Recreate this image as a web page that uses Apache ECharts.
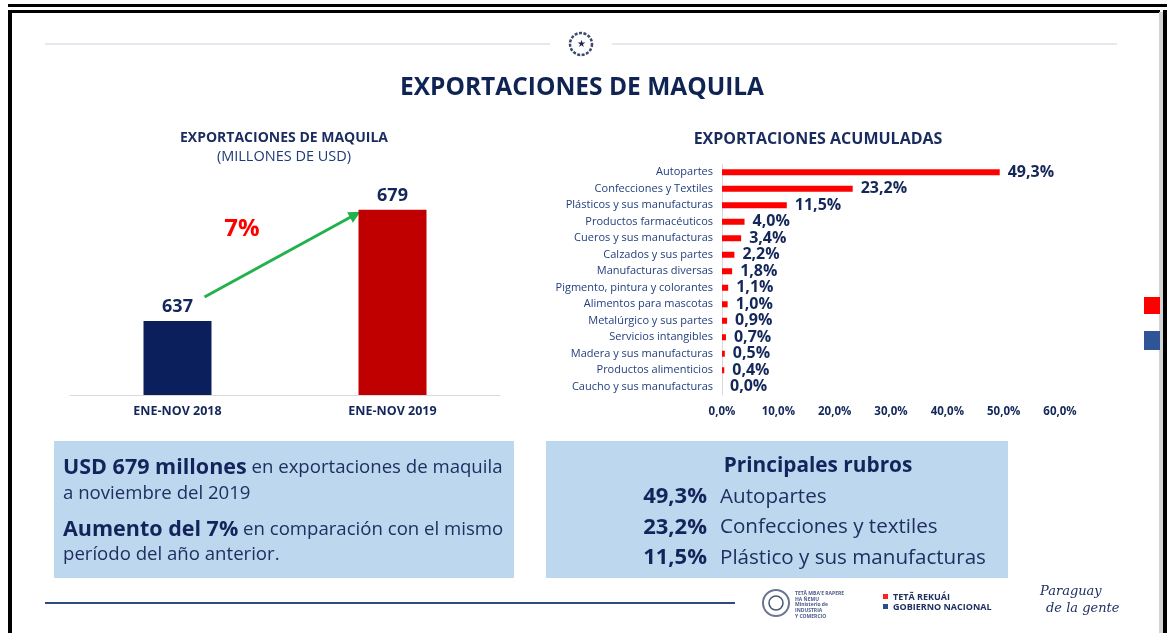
<!DOCTYPE html>
<html>
<head>
<meta charset="utf-8">
<script src="https://cdn.jsdelivr.net/npm/echarts@6/dist/echarts.min.js"></script>
<style>
  html, body { margin: 0; padding: 0; background: #fff; }
  #main { width: 1167px; height: 633px; }
</style>
</head>
<body>
<div id="main"></div>
<script>
// datos del grafico de la izquierda (millones de USD)
var periodos = ['ENE-NOV 2018', 'ENE-NOV 2019'];
var montos = [637, 679];
var variacion = '7%';

// exportaciones acumuladas por rubro (%)
var rubros = ['Autopartes', 'Confecciones y Textiles', 'Plásticos y sus manufacturas', 'Productos farmacéuticos',
  'Cueros y sus manufacturas', 'Calzados y sus partes', 'Manufacturas diversas', 'Pigmento, pintura y colorantes',
  'Alimentos para mascotas', 'Metalúrgico y sus partes', 'Servicios intangibles', 'Madera y sus manufacturas',
  'Productos alimenticios', 'Caucho y sus manufacturas'];
var participacion = [49.3, 23.2, 11.5, 4.0, 3.4, 2.2, 1.8, 1.1, 1.0, 0.9, 0.7, 0.5, 0.4, 0.0];
var ticksPct = [0, 10, 20, 30, 40, 50, 60];

// recuadro "Principales rubros"
var principalesNombres = ['Autopartes', 'Confecciones y textiles', 'Plástico y sus manufacturas'];
var principalesPct = [49.3, 23.2, 11.5];

var NAVY = '#14275a';
var FONT = 'Open Sans';

function pct(v) {
  return v.toFixed(1).replace('.', ',') + '%';
}

var chart = echarts.init(document.getElementById('main'));

var option = {
  animation: false,
  textStyle: { fontFamily: FONT },
  grid: [
    { left: 70, width: 430, top: 170, bottom: 238 },
    { left: 722, right: 107, top: 164, bottom: 238 }
  ],
  xAxis: [
    {
      gridIndex: 0, type: 'category', data: periodos,
      axisLine: { lineStyle: { color: '#d9d9d9', width: 1 } },
      axisTick: { show: false },
      axisLabel: { color: NAVY, fontWeight: 'bold', fontSize: 12.5, margin: 10, fontFamily: FONT }
    },
    {
      gridIndex: 1, type: 'value', min: 0, max: 60, interval: 10,
      axisLine: { show: false }, axisTick: { show: false }, splitLine: { show: false },
      axisLabel: {
        color: NAVY, fontWeight: 'bold', fontSize: 11.5, margin: 11, fontFamily: FONT,
        formatter: function (v) { return ticksPct.indexOf(v) >= 0 ? pct(v) : ''; }
      }
    }
  ],
  yAxis: [
    { gridIndex: 0, type: 'value', min: 609, max: 694, show: false },
    {
      gridIndex: 1, type: 'category', data: rubros, inverse: true,
      axisLine: { lineStyle: { color: '#d9d9d9' } },
      axisTick: { show: false },
      axisLabel: { color: '#23407e', fontSize: 11, margin: 9, fontFamily: FONT }
    }
  ],
  series: [
    {
      type: 'bar', xAxisIndex: 0, yAxisIndex: 0, barWidth: 68,
      data: montos.map(function (v, i) {
        return { value: v, itemStyle: { color: i === 0 ? '#0b1f5c' : '#c00000' } };
      }),
      label: {
        show: true, position: 'top', distance: 5, color: NAVY,
        fontWeight: 'bold', fontSize: 18, fontFamily: FONT
      }
    },
    {
      type: 'bar', xAxisIndex: 1, yAxisIndex: 1, barWidth: 6,
      itemStyle: { color: '#ff0000' },
      data: participacion,
      label: {
        show: true, position: 'right', distance: 8, color: NAVY,
        fontWeight: 'bold', fontSize: 16, fontFamily: FONT,
        formatter: function (p) { return pct(p.value); }
      }
    }
  ]
};
chart.setOption(option);

// flecha verde entre las dos barras
var p0 = chart.convertToPixel({ gridIndex: 0 }, [0, montos[0] + 9]);
var p1 = chart.convertToPixel({ gridIndex: 0 }, [1, montos[1]]);
var a = [p0[0] + 27, p0[1]];
var b = [p1[0] - 32, p1[1] + 2];
var ang = Math.atan2(b[1] - a[1], b[0] - a[0]);
function rot(dx, dy) {
  return [b[0] + dx * Math.cos(ang) - dy * Math.sin(ang), b[1] + dx * Math.sin(ang) + dy * Math.cos(ang)];
}

var g = [];
// marco
g.push({ type: 'rect', shape: { x: 8, y: 4, width: 1159, height: 3 }, style: { fill: '#000' } });
g.push({ type: 'rect', shape: { x: 8, y: 10, width: 1152, height: 3 }, style: { fill: '#000' } });
g.push({ type: 'rect', shape: { x: 8, y: 10, width: 4, height: 623 }, style: { fill: '#000' } });
g.push({ type: 'rect', shape: { x: 1159, y: 12, width: 4, height: 621 }, style: { fill: '#d4d4d4' } });
g.push({ type: 'rect', shape: { x: 1163, y: 10, width: 4, height: 623 }, style: { fill: '#000' } });

// encabezado
g.push({ type: 'line', shape: { x1: 45, y1: 44, x2: 550, y2: 44 }, style: { stroke: '#dde1ea', lineWidth: 1.5 } });
g.push({ type: 'line', shape: { x1: 612, y1: 44, x2: 1117, y2: 44 }, style: { stroke: '#dde1ea', lineWidth: 1.5 } });
g.push({ type: 'circle', shape: { cx: 581, cy: 44, r: 11 }, style: { fill: '#fff', stroke: '#3b4a6b', lineWidth: 2.5, lineDash: [3, 1.5] } });
g.push({ type: 'text', x: 581, y: 44, style: { text: '★', fill: '#1d2a4a', fontSize: 10, align: 'center', verticalAlign: 'middle' } });
g.push({ type: 'text', x: 582, y: 88, style: { text: 'EXPORTACIONES DE MAQUILA', fill: '#0f2453', font: 'bold 24.5px "Open Sans"', align: 'center', verticalAlign: 'middle' } });

// titulos de los graficos
g.push({ type: 'text', x: 284, y: 138, style: { text: 'EXPORTACIONES DE MAQUILA', fill: '#1a2b5e', font: 'bold 14px "Open Sans"', align: 'center', verticalAlign: 'middle' } });
g.push({ type: 'text', x: 284, y: 157, style: { text: '(MILLONES DE USD)', fill: '#1f3a78', font: '14.5px "Open Sans"', align: 'center', verticalAlign: 'middle' } });
g.push({ type: 'text', x: 818, y: 139, style: { text: 'EXPORTACIONES ACUMULADAS', fill: '#1a2b5e', font: 'bold 16px "Open Sans"', align: 'center', verticalAlign: 'middle' } });

// flecha y porcentaje
g.push({ type: 'line', shape: { x1: a[0], y1: a[1], x2: rot(-8, 0)[0], y2: rot(-8, 0)[1] }, style: { stroke: '#21b24b', lineWidth: 3 } });
g.push({ type: 'polygon', shape: { points: [b, rot(-12, -6), rot(-12, 6)] }, style: { fill: '#21b24b' } });
g.push({ type: 'text', x: 242, y: 229, style: { text: variacion, fill: '#ff0000', font: 'bold 24px "Open Sans"', align: 'center', verticalAlign: 'middle' } });

// recuadro izquierdo
g.push({ type: 'rect', shape: { x: 54, y: 441, width: 460, height: 137 }, style: { fill: '#bdd7ee' } });
var rich = {
  b: { fontFamily: FONT, fontWeight: 'bold', fontSize: 21.5, fill: '#13245a' },
  n: { fontFamily: FONT, fontSize: 18.6, fill: '#1f2f60' }
};
g.push({ type: 'text', x: 63, y: 468, style: { text: '{b|USD ' + montos[1] + ' millones}{n| en exportaciones de maquila}', rich: rich, verticalAlign: 'middle' } });
g.push({ type: 'text', x: 63, y: 494, style: { text: '{n|a noviembre del 2019}', rich: rich, verticalAlign: 'middle' } });
g.push({ type: 'text', x: 63, y: 530, style: { text: '{b|Aumento del ' + variacion + '}{n| en comparación con el mismo}', rich: rich, verticalAlign: 'middle' } });
g.push({ type: 'text', x: 63, y: 555, style: { text: '{n|período del año anterior.}', rich: rich, verticalAlign: 'middle' } });

// recuadro derecho
g.push({ type: 'rect', shape: { x: 546, y: 441, width: 462, height: 137 }, style: { fill: '#bdd7ee' } });
g.push({ type: 'text', x: 818, y: 466, style: { text: 'Principales rubros', fill: '#13245a', font: 'bold 20.8px "Open Sans"', align: 'center', verticalAlign: 'middle' } });
principalesNombres.forEach(function (n, i) {
  var y = 497 + i * 30.5;
  g.push({ type: 'text', x: 707, y: y, style: { text: pct(principalesPct[i]), fill: '#13245a', font: 'bold 22px "Open Sans"', align: 'right', verticalAlign: 'middle' } });
  g.push({ type: 'text', x: 720, y: y, style: { text: n, fill: '#1f2f60', font: '20.6px "Open Sans"', align: 'left', verticalAlign: 'middle' } });
});

// pie de pagina
g.push({ type: 'line', shape: { x1: 45, y1: 603, x2: 735, y2: 603 }, style: { stroke: '#2f4a7c', lineWidth: 2 } });
g.push({ type: 'circle', shape: { cx: 776, cy: 603, r: 13 }, style: { fill: '#fff', stroke: '#6b7690', lineWidth: 2 } });
g.push({ type: 'circle', shape: { cx: 776, cy: 603, r: 7 }, style: { fill: '#fff', stroke: '#4b5672', lineWidth: 1.5 } });
g.push({ type: 'text', x: 795, y: 591, style: { text: 'TETÃ MBA\'E RAPERE\nHA ÑEMU\nMinisterio de\nINDUSTRIA\nY COMERCIO', fill: '#4a5a8a', font: 'bold 5px "Open Sans"', lineHeight: 5.6 } });
g.push({ type: 'rect', shape: { x: 883, y: 594, width: 5, height: 5 }, style: { fill: '#ff2020' } });
g.push({ type: 'rect', shape: { x: 883, y: 604, width: 5, height: 5 }, style: { fill: '#2f4a8c' } });
g.push({ type: 'text', x: 893, y: 597, style: { text: 'TETÃ REKUÁI', fill: '#1f2f60', font: 'bold 9px "Open Sans"', verticalAlign: 'middle' } });
g.push({ type: 'text', x: 893, y: 607, style: { text: 'GOBIERNO NACIONAL', fill: '#1f2f60', font: 'bold 9px "Open Sans"', verticalAlign: 'middle' } });
g.push({ type: 'text', x: 1040, y: 592, style: { text: 'Paraguay', fill: '#1f2f60', font: 'italic 13px "DejaVu Serif"', verticalAlign: 'middle' } });
g.push({ type: 'text', x: 1046, y: 609, style: { text: 'de la gente', fill: '#1f2f60', font: 'italic 13px "DejaVu Serif"', verticalAlign: 'middle' } });

// cuadros al borde derecho
g.push({ type: 'rect', shape: { x: 1144, y: 297, width: 16, height: 17 }, style: { fill: '#ff0000' } });
g.push({ type: 'rect', shape: { x: 1144, y: 331, width: 16, height: 19 }, style: { fill: '#2f5597' } });

chart.setOption({ graphic: { elements: g } });
</script>
</body>
</html>
